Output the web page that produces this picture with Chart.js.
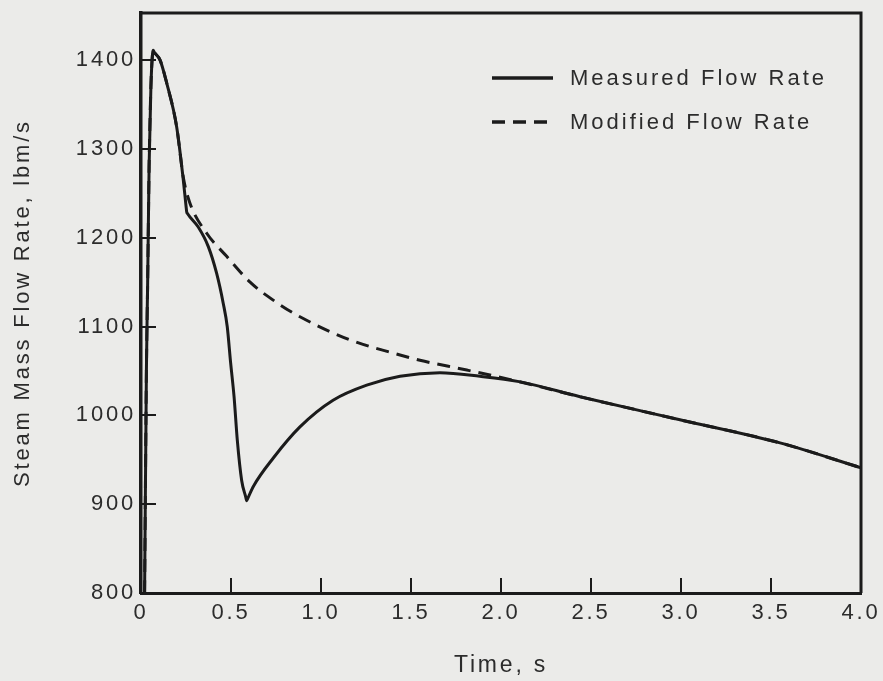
<!DOCTYPE html>
<html>
<head>
<meta charset="utf-8">
<script src="https://cdn.jsdelivr.net/npm/chart.js@4.4.1/dist/chart.umd.min.js"></script>
<style>
  html, body { margin: 0; padding: 0; background: #ebebe9; }
  #wrap { width: 883px; height: 681px; }
  canvas { display: block; }
</style>
</head>
<body>
<div id="wrap"><canvas id="c" width="883" height="681"></canvas></div>
<script>
// ---- data ----
const xTickValues = [0, 0.5, 1, 1.5, 2, 2.5, 3, 3.5, 4];
const xTickLabels = ['0', '0.5', '1.0', '1.5', '2.0', '2.5', '3.0', '3.5', '4.0'];
const yTickValues = [800, 900, 1000, 1100, 1200, 1300, 1400];
const seriesNames = ['Measured Flow Rate', 'Modified Flow Rate'];

const measuredTime = [0.02, 0.03, 0.037, 0.045, 0.055, 0.064, 0.068, 0.073, 0.106, 0.143, 0.198, 0.235, 0.25, 0.254, 0.259, 0.318, 0.374, 0.42, 0.457, 0.479, 0.498, 0.517, 0.535, 0.559, 0.582, 0.587, 0.592, 0.624, 0.735, 0.883, 1.067, 1.254, 1.439, 1.661, 1.883, 2.1, 2.439, 2.994, 3.55, 4.0];
const measuredFlow = [800, 1050, 1150, 1280, 1370, 1407, 1411, 1409, 1400, 1374, 1325, 1265, 1236, 1229, 1227, 1212, 1190, 1160, 1126, 1100, 1059, 1021, 972, 927, 908, 904, 906, 920, 952, 987, 1017, 1034, 1044, 1048, 1044, 1038, 1021, 995, 969, 941];

const modifiedTime = [0.02, 0.03, 0.037, 0.045, 0.055, 0.064, 0.068, 0.073, 0.106, 0.143, 0.198, 0.235, 0.27, 0.365, 0.476, 0.606, 0.754, 0.883, 1.161, 1.439, 1.55, 1.81, 2.1, 2.439, 2.994, 3.55, 4.0];
const modifiedFlow = [800, 1050, 1150, 1280, 1370, 1407, 1411, 1409, 1400, 1374, 1325, 1268, 1240, 1205, 1179, 1150, 1127, 1111, 1085, 1068, 1062, 1051, 1038, 1021, 995, 969, 941];

// ---- styling ----
const INK = '#1b1b1b';
const TEXT = '#2c2c2c';
const FONT = '"Liberation Sans", Arial, sans-serif';

const toPoints = (xs, ys) => xs.map((x, i) => ({ x: x, y: ys[i] }));

const styleCtx = {
  id: 'styleCtx',
  beforeDraw(chart) { chart.ctx.letterSpacing = '2.8px'; }
};

const frame = {
  id: 'frame',
  afterDatasetsDraw(chart) {
    const { ctx, chartArea: a } = chart;
    ctx.save();
    ctx.strokeStyle = INK;
    ctx.lineWidth = 3;
    ctx.beginPath();
    ctx.moveTo(a.left, a.top);
    ctx.lineTo(a.right, a.top);
    ctx.lineTo(a.right, a.bottom);
    ctx.stroke();
    ctx.restore();
  }
};

const insideLegend = {
  id: 'insideLegend',
  afterDraw(chart) {
    const ctx = chart.ctx;
    ctx.save();
    ctx.letterSpacing = '3px';
    chart.data.datasets.forEach((ds, i) => {
      const y = 78 + i * 44;
      ctx.strokeStyle = ds.borderColor;
      ctx.lineWidth = 3.5;
      ctx.setLineDash(ds.borderDash || []);
      ctx.beginPath();
      ctx.moveTo(492, y);
      ctx.lineTo(553, y);
      ctx.stroke();
      ctx.setLineDash([]);
      ctx.fillStyle = TEXT;
      ctx.font = '22px ' + FONT;
      ctx.textAlign = 'left';
      ctx.textBaseline = 'middle';
      ctx.fillText(ds.label, 570, y + 1);
    });
    ctx.restore();
  }
};

new Chart(document.getElementById('c'), {
  type: 'line',
  data: {
    datasets: [
      {
        label: seriesNames[0],
        data: toPoints(measuredTime, measuredFlow),
        borderColor: INK,
        borderWidth: 3,
        pointRadius: 0,
        cubicInterpolationMode: 'monotone',
        fill: false
      },
      {
        label: seriesNames[1],
        data: toPoints(modifiedTime, modifiedFlow),
        borderColor: INK,
        borderWidth: 3,
        borderDash: [13, 8],
        pointRadius: 0,
        cubicInterpolationMode: 'monotone',
        fill: false
      }
    ]
  },
  options: {
    responsive: false,
    animation: false,
    devicePixelRatio: 1,
    layout: { padding: { top: 13, right: 22, left: 0, bottom: 0 } },
    plugins: {
      legend: { display: false },
      tooltip: { enabled: false }
    },
    scales: {
      x: {
        type: 'linear',
        position: 'bottom',
        min: 0,
        max: 4,
        afterBuildTicks: s => { s.ticks = xTickValues.map(v => ({ value: v })); },
        afterFit: s => { s.height = 88; s.paddingLeft = 0; s.paddingRight = 0; },
        ticks: {
          callback: v => xTickLabels[xTickValues.indexOf(v)],
          autoSkip: false,
          maxRotation: 0,
          padding: 22,
          color: TEXT,
          font: { family: FONT, size: 22 }
        },
        grid: { display: true, drawOnChartArea: false, drawTicks: true, tickLength: -15, color: INK, lineWidth: 2 },
        border: { display: true, width: 3, color: INK },
        title: {
          display: true,
          text: 'Time, s',
          color: TEXT,
          font: { family: FONT, size: 23 },
          padding: { top: 0, bottom: 2 }
        }
      },
      y: {
        type: 'linear',
        min: 800,
        max: 1453,
        afterBuildTicks: s => { s.ticks = yTickValues.map(v => ({ value: v })); },
        afterFit: s => { s.width = 141; s.paddingTop = 0; s.paddingBottom = 0; },
        ticks: {
          callback: v => String(v),
          padding: 20,
          color: TEXT,
          font: { family: FONT, size: 22 }
        },
        grid: { display: true, drawOnChartArea: false, drawTicks: true, tickLength: -15, color: INK, lineWidth: 2 },
        border: { display: true, width: 3.5, color: INK },
        title: {
          display: true,
          text: 'Steam Mass Flow Rate, lbm/s',
          color: TEXT,
          font: { family: FONT, size: 22 },
          padding: { top: 10, bottom: 0 }
        }
      }
    }
  },
  plugins: [styleCtx, frame, insideLegend]
});
</script>
</body>
</html>
